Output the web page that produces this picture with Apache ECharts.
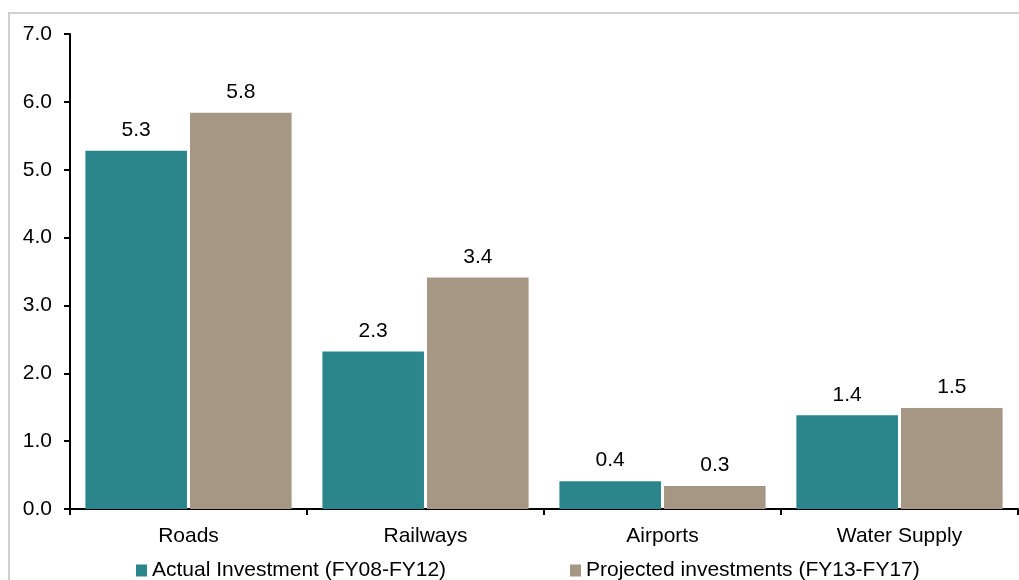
<!DOCTYPE html>
<html><head><meta charset="utf-8">
<script src="https://cdn.jsdelivr.net/npm/echarts@6/dist/echarts.min.js"></script>
<style>html,body{margin:0;padding:0;background:#fff}#c{width:1019px;height:580px}</style>
</head><body><div id="c"></div>
<script>
const categories = ['Roads', 'Railways', 'Airports', 'Water Supply'];
const actualInvestment = [5.28, 2.32, 0.41, 1.38];
const projectedInvestment = [5.84, 3.41, 0.34, 1.49];
const seriesNames = ['Actual Investment (FY08-FY12)', 'Projected investments (FY13-FY17)'];
const yTicks = { min: 0, max: 7, interval: 1 };

const chart = echarts.init(document.getElementById('c'));
const font = 'Liberation Sans, Arial, sans-serif';
const fs = 21;
const lbl = {
  show: true, position: 'top', distance: 10, color: '#000', fontSize: fs, fontFamily: font,
  formatter: p => p.value.toFixed(1)
};
const legText = { color: '#000', fontSize: fs, fontFamily: font };
chart.setOption({
  animation: false,
  graphic: [{
    type: 'rect', shape: { x: 9, y: 13, width: 1040, height: 600 },
    style: { fill: 'none', stroke: '#d0d0d0', lineWidth: 2 }, z: -1
  }],
  grid: { left: 70, top: 34, right: 1, bottom: 71, containLabel: false },
  legend: [
    { data: [seriesNames[0]], left: 131, top: 555, itemWidth: 11, itemHeight: 12, icon: 'rect',
      textStyle: legText },
    { data: [seriesNames[1]], left: 565, top: 555, itemWidth: 11, itemHeight: 12, icon: 'rect',
      textStyle: legText }
  ],
  xAxis: {
    type: 'category', data: categories,
    axisLine: { lineStyle: { color: '#000', width: 2 } },
    axisTick: { show: true, length: 6, lineStyle: { color: '#000', width: 2 } },
    axisLabel: { color: '#000', fontSize: fs, fontFamily: font, margin: 17 }
  },
  yAxis: {
    type: 'value', min: yTicks.min, max: yTicks.max, interval: yTicks.interval,
    axisLine: { show: true, lineStyle: { color: '#000', width: 2 } },
    axisTick: { show: true, length: 6, lineStyle: { color: '#000', width: 2 } },
    splitLine: { show: false },
    axisLabel: { color: '#000', fontSize: fs, fontFamily: font, margin: 18, formatter: v => v.toFixed(1) }
  },
  series: [
    { name: seriesNames[0], type: 'bar', data: actualInvestment, barGap: '3%', barCategoryGap: '13%',
      itemStyle: { color: '#2a868b' }, label: lbl },
    { name: seriesNames[1], type: 'bar', data: projectedInvestment,
      itemStyle: { color: '#a69785' }, label: lbl }
  ]
});
</script></body></html>
